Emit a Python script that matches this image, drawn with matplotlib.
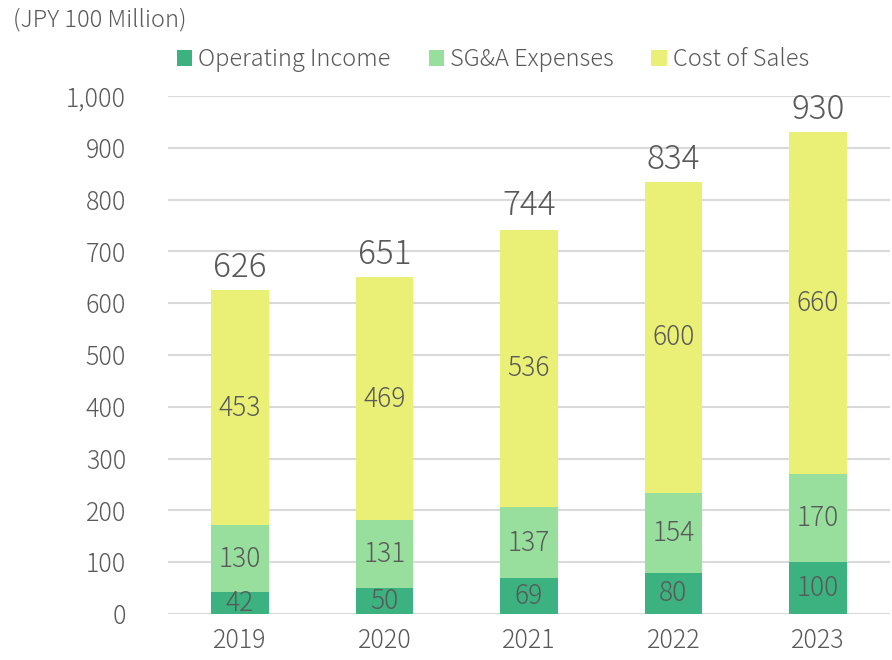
import matplotlib.pyplot as plt
import numpy as np

# 数据
years = ["2019", "2020", "2021", "2022", "2023"]
operating_income = [42, 50, 69, 80, 100]
sga_expenses = [130, 131, 137, 154, 170]
cost_of_sales = [453, 469, 536, 600, 660]
totals = [626, 651, 744, 834, 930]

plt.rcParams["font.family"] = ["Noto Sans CJK JP", "DejaVu Sans"]
plt.rcParams["font.weight"] = "light"
text_color = "#595959"
colors = ["#3bb27f", "#98df9e", "#eaf075"]

fig = plt.figure(figsize=(8.92, 6.6), dpi=100)
ax = fig.add_axes([0.188, 0.0697, 0.81, 0.7848])

x = np.arange(len(years))
width = 0.4
oi = np.array(operating_income)
sga = np.array(sga_expenses)
cos = np.array(cost_of_sales)

b1 = ax.bar(x, oi, width, color=colors[0], label="Operating Income", zorder=3)
b2 = ax.bar(x, sga, width, bottom=oi, color=colors[1], label="SG&A Expenses", zorder=3)
b3 = ax.bar(x, cos, width, bottom=oi + sga, color=colors[2], label="Cost of Sales", zorder=3)

for bars in (b1, b2, b3):
    ax.bar_label(bars, label_type="center", fontsize=19, color=text_color)

for i, t in enumerate(totals):
    ax.text(x[i], t + 10, str(t), ha="center", va="bottom", fontsize=24,
            color=text_color, clip_on=False)

ax.set_xlim(-0.5, 4.5)
ax.set_ylim(0, 1000)
ax.set_yticks(range(0, 1001, 100))
ax.set_yticklabels([f"{v:,}" for v in range(0, 1001, 100)])
ax.set_xticks(x)
ax.set_xticklabels(years)
ax.tick_params(axis="both", length=0, labelsize=18, labelcolor=text_color)
ax.tick_params(axis="y", pad=30)
ax.tick_params(axis="x", pad=10)
ax.grid(axis="y", color="#d9d9d9", linewidth=1.5, zorder=0)
for s in ax.spines.values():
    s.set_visible(False)

fig.text(0.015, 0.97, "(JPY 100 Million)", fontsize=17, color=text_color, va="center")

ax.legend(loc="center left", bbox_to_anchor=(-0.0, 1.07), ncol=3, frameon=False,
          fontsize=17, handlelength=0.65, handleheight=0.65, handletextpad=0.25,
          columnspacing=1.6, labelcolor=text_color, borderaxespad=0)

plt.savefig("out.png", dpi=100)
